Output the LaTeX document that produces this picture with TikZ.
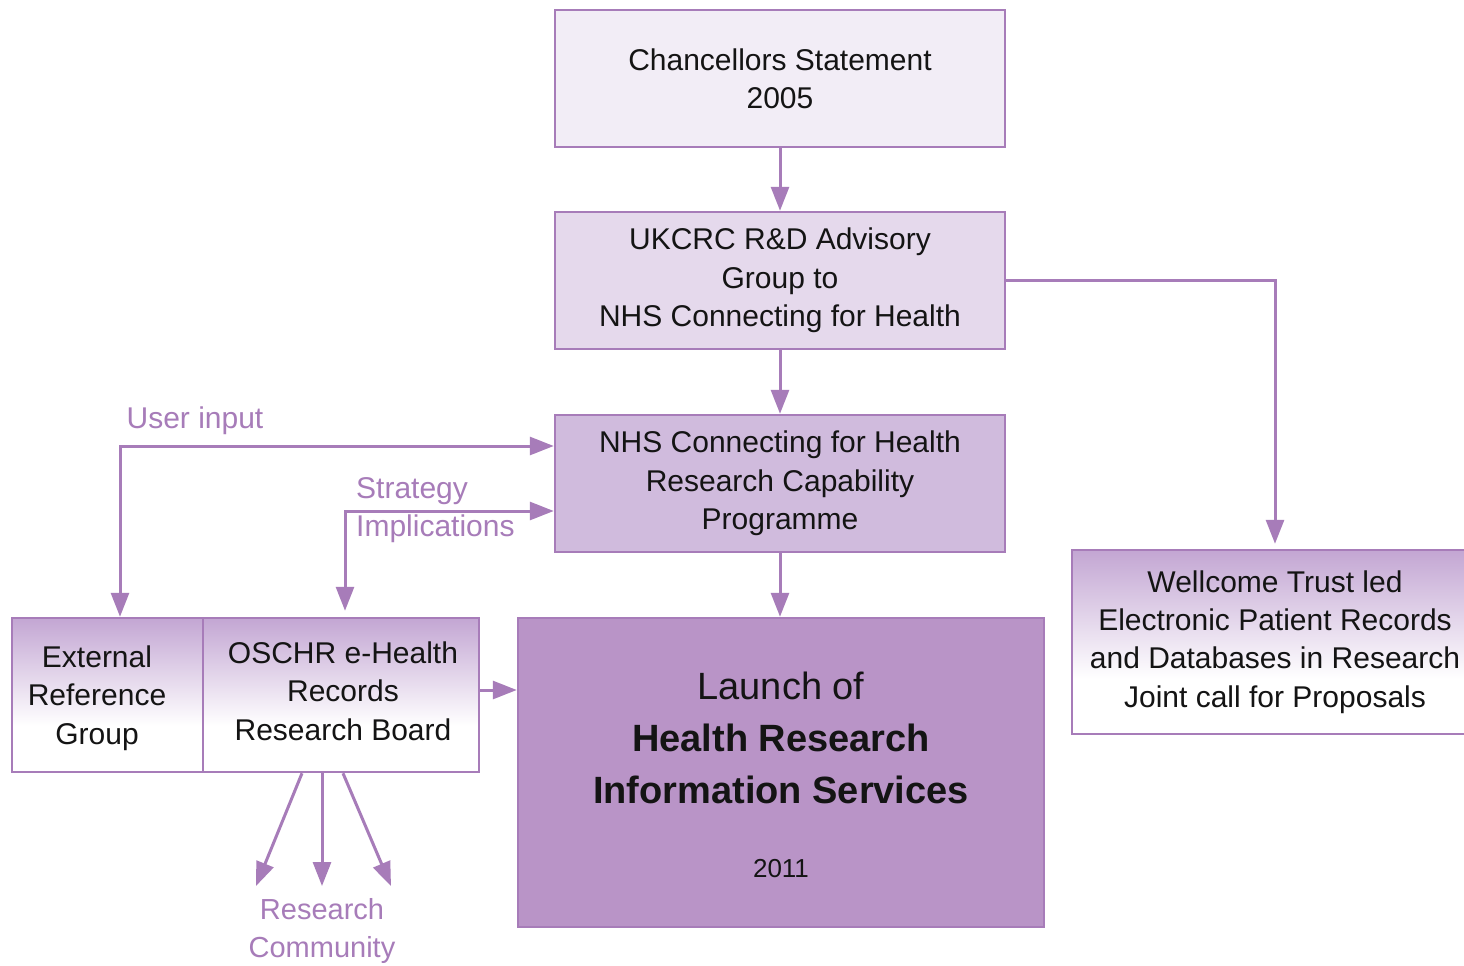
\documentclass[tikz,border=0pt]{standalone}
\usepackage{fontspec}
\setmainfont{Liberation Sans}
\usetikzlibrary{arrows.meta,calc}
\definecolor{pline}{HTML}{A77CB9}
\definecolor{fone}{HTML}{F2EDF6}
\definecolor{ftwo}{HTML}{E5D9EC}
\definecolor{fthree}{HTML}{D0BBDD}
\definecolor{ffour}{HTML}{B994C7}
\definecolor{gtop}{HTML}{C3A6D3}
\definecolor{tblack}{HTML}{141414}
\pgfdeclareverticalshading{fadebox}{100bp}{color(0bp)=(white); color(25bp)=(white); color(40bp)=(white); color(75bp)=(gtop); color(100bp)=(gtop)}
\begin{document}
\begin{tikzpicture}[x=1pt,y=-1pt,
 box/.style={draw=pline, line width=2.5pt, align=center, inner sep=0pt, font=\fontsize{30}{38.3}\selectfont, text=tblack},
 gbox/.style={box, shading=fadebox},
 btext/.style={align=center, inner sep=0pt, font=\fontsize{30}{38.3}\selectfont, text=tblack},
 tipa/.tip={Triangle[length=24pt,width=18pt]},
 arr/.style={draw=pline, line width=3pt, -tipa},
 arrb/.style={draw=pline, line width=3pt, tipa-tipa},
 lbl/.style={text=pline, font=\fontsize{30}{38}\selectfont, inner sep=0pt}]
\clip (0,0) rectangle (1464,966);
\fill[white] (0,0) rectangle (1464,966);

\node[box, fill=fone, minimum width=450pt, minimum height=137pt] (chan) at (780,78.5) {Chancellors Statement\\2005};
\node[box, fill=ftwo, minimum width=450pt, minimum height=137pt] (ukcrc) at (780,280.5) {UKCRC R\&D Advisory\\Group to\\NHS Connecting for Health};
\node[box, fill=fthree, minimum width=450pt, minimum height=137pt] (rcp) at (780,483.5) {NHS Connecting for Health\\Research Capability\\Programme};
\node[box, fill=ffour, minimum width=526pt, minimum height=309pt] (launch) at (781,772.5) {};
\node[btext, font=\fontsize{38}{52}\selectfont] (launchtext) at (781,775) {Launch of\\\textbf{Health Research}\\\textbf{Information Services}\\[22pt]{\fontsize{26}{30}\selectfont 2011}};
\node[gbox, minimum width=191pt, minimum height=154pt] (ext) at (107.5,695) {};
\node[gbox, minimum width=276pt, minimum height=154pt] (oschr) at (341,695) {};
\node[btext] (exttext) at (97,698) {External\\Reference\\Group};
\node[btext] (oschrtext) at (343,691) {OSCHR e-Health\\Records\\Research Board};
\node[gbox, minimum width=406pt, minimum height=184pt] (well) at (1275,642) {Wellcome Trust led\\Electronic Patient Records\\and Databases in Research\\Joint call for Proposals};

\node[lbl] (ui) at (195,421) {User input};
\node[lbl, anchor=west] (strat) at (356,491) {Strategy};
\node[lbl, anchor=west] (impl) at (356,529) {Implications};
\node[lbl, align=center, font=\fontsize{29}{38}\selectfont] (rc) at (322,931) {Research\\Community};

\draw[arr] (chan) -- (ukcrc);
\draw[arr] (ukcrc) -- (rcp);
\draw[arr] (rcp.south) -- (rcp.south |- launch.north);
\draw[arr, shorten >=5pt] (ukcrc.east) -| (well.north);
\draw[arrb] ([xshift=12.5pt]ext.north) |- ([yshift=37.5pt]rcp.west);
\draw[arrb] ([xshift=4pt,yshift=6pt]oschr.north) |- ([yshift=-27.5pt]rcp.west);
\coordinate (oe) at ([yshift=5pt]oschr.east);
\draw[arr] (oe) -- (oe -| launch.west);
\coordinate (rcone) at (256,886);
\coordinate (rctwo) at (322,886);
\coordinate (rcthree) at (391,886);
\draw[arr] ([xshift=-39pt]oschr.south) -- (rcone);
\draw[arr] ([xshift=-19pt]oschr.south) -- (rctwo);
\draw[arr] ([xshift=2pt]oschr.south) -- (rcthree);
\end{tikzpicture}
\end{document}
